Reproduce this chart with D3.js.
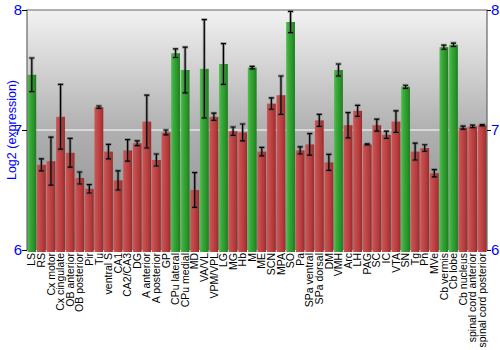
<!DOCTYPE html>
<html><head><meta charset="utf-8">
<script src="https://cdn.jsdelivr.net/npm/d3@7"></script>
<style>body{margin:0;background:#fff}svg{display:block}</style>
</head><body><svg id="c" width="500" height="350"></svg>
<script>
const categories = ["LS","RS","Cx motor","Cx cingulate","OB anterior","OB posterior","Pir","Tu","ventral S","CA1","CA2/CA3","DG","A anterior","A posterior","GP","CPu lateral","CPu medial","MD","VA/VL","VPM/VPL","LG","MG","Hb","M","ME","SCN","MPA","SO","Pa","SPa ventral","SPa dorsal","DM","VMH","Arc","LH","PAG","SC","IC","VTA","SN","Tg","Pn","MVe","Cb vermis","Cb lobe","Cb nucleus","spinal cord anterior","spinal cord posterior"];
const values = [7.46,6.71,6.74,7.11,6.81,6.60,6.51,7.19,6.82,6.58,6.83,6.89,7.07,6.75,6.98,7.64,7.50,6.50,7.51,7.11,7.55,6.99,6.98,7.52,6.82,7.22,7.29,7.90,6.83,6.88,7.08,6.73,7.50,7.04,7.16,6.88,7.04,6.96,7.07,7.36,6.82,6.85,6.64,7.69,7.71,7.02,7.03,7.04];
const errors = [0.14,0.05,0.20,0.27,0.12,0.05,0.035,0.01,0.06,0.08,0.09,0.02,0.22,0.05,0.02,0.036,0.19,0.145,0.41,0.03,0.17,0.035,0.07,0.01,0.035,0.047,0.16,0.088,0.03,0.09,0.05,0.067,0.05,0.105,0.046,0.005,0.05,0.03,0.09,0.013,0.07,0.027,0.03,0.017,0.014,0.013,0.01,0.005];
const highlighted = ["LS","CPu lateral","CPu medial","VA/VL","LG","M","SO","VMH","SN","Cb vermis","Cb lobe"];
const yTicks = [6,7,8];

const svg = d3.select("#c");
const L = 27, R = 487, T = 10, B = 250;
const x = d3.scaleBand().domain(categories).range([L, R]).paddingInner(0.08).paddingOuter(0.04);
const y = d3.scaleLinear().domain([6, 8]).range([B, T]);

const defs = svg.append("defs");
const bg = defs.append("linearGradient").attr("id","bg").attr("x1",0).attr("y1",0).attr("x2",0).attr("y2",1);
bg.append("stop").attr("offset",0).attr("stop-color","#f2f2f2");
bg.append("stop").attr("offset",0.5).attr("stop-color","#b0b0b0");
bg.append("stop").attr("offset",1).attr("stop-color","#8a8a8a");
function barGrad(id, c1, c2, c3, c4){
  const g = defs.append("linearGradient").attr("id",id).attr("x1",0).attr("y1",0).attr("x2",1).attr("y2",0);
  g.append("stop").attr("offset",0).attr("stop-color",c1);
  g.append("stop").attr("offset",0.3).attr("stop-color",c2);
  g.append("stop").attr("offset",0.7).attr("stop-color",c3);
  g.append("stop").attr("offset",1).attr("stop-color",c4);
}
barGrad("gG","#55c055","#3aa83a","#2a952a","#1f7a1f");
barGrad("gR","#cc5656","#c44a4a","#b23a3a","#962c2c");

svg.append("rect").attr("x",L).attr("y",T).attr("width",R-L).attr("height",B-T).attr("fill","url(#bg)");
svg.append("line").attr("x1",L).attr("x2",R).attr("y1",y(7)).attr("y2",y(7)).attr("stroke","#fff").attr("stroke-width",1.2);

svg.append("g").selectAll("rect").data(categories).join("rect")
  .attr("x", d => x(d)).attr("width", x.bandwidth())
  .attr("y", (d,i) => y(values[i])).attr("height", (d,i) => y(6) - y(values[i]) + 2)
  .attr("fill", d => highlighted.includes(d) ? "url(#gG)" : "url(#gR)");

const eb = svg.append("g");
categories.forEach((d,i) => {
  const cx = x(d) + x.bandwidth()/2;
  const y1 = y(values[i] + errors[i]), y2 = y(values[i] - errors[i]);
  const g = eb.append("g");
  g.append("path").attr("d", `M${cx-3},${y1}H${cx+3}M${cx},${y1}V${y2}M${cx-3},${y2}H${cx+3}`)
    .attr("stroke","#555").attr("stroke-opacity",0.45).attr("stroke-width",3).attr("fill","none");
  g.append("path").attr("d", `M${cx-2.5},${y1}H${cx+2.5}M${cx},${y1}V${y2}M${cx-2.5},${y2}H${cx+2.5}`)
    .attr("stroke","#000").attr("stroke-width",1.2).attr("fill","none");
});

svg.append("path").attr("d",`M${L},${B}V${T}H${R}V${B}`).attr("fill","none").attr("stroke","#666").attr("stroke-width",1.2);

const yl = d3.axisLeft(y).tickValues(yTicks).tickSize(5).tickFormat(d3.format("d"));
const yr = d3.axisRight(y).tickValues(yTicks).tickSize(4).tickFormat(d3.format("d"));
const gl = svg.append("g").attr("transform",`translate(${L},0)`).call(yl);
const gr = svg.append("g").attr("transform",`translate(${R},0)`).call(yr);
[gl, gr].forEach(g => {
  g.select(".domain").remove();
  g.selectAll("line").attr("stroke","#000");
  g.selectAll("text").attr("fill","#0000ff").attr("font-family","Liberation Sans, Arial, sans-serif").attr("font-size",15);
});
gl.selectAll("text").attr("x",-5);
gr.selectAll("text").attr("x",4);

svg.append("text").attr("transform",`translate(12,${(T+B)/2}) rotate(-90)`)
  .attr("text-anchor","middle").attr("dy","0.35em")
  .attr("fill","#0000ff").attr("font-family","Liberation Sans, Arial, sans-serif").attr("font-size",12.5)
  .text("Log2 (expression)");

const xa = d3.axisBottom(x).tickSize(0);
const gx = svg.append("g").attr("transform",`translate(0,${B+2})`).call(xa);
gx.select(".domain").remove();
gx.selectAll("text")
  .attr("transform","rotate(-90)")
  .attr("text-anchor","end").attr("x",-1).attr("y",0).attr("dy","0.35em")
  .attr("fill","#000").attr("font-family","Liberation Sans, Arial, sans-serif").attr("font-size",10.5);
</script></body></html>
